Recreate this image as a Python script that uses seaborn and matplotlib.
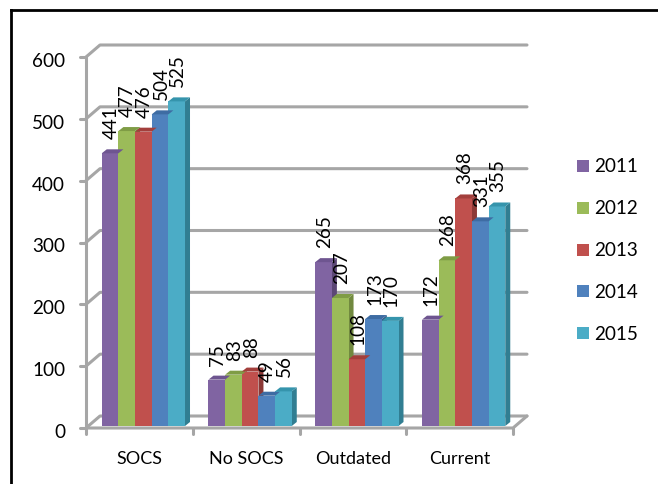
import numpy as np
import pandas as pd
import matplotlib
matplotlib.use('Agg')
import matplotlib.pyplot as plt
from matplotlib.patches import Polygon, Rectangle
from matplotlib.transforms import ScaledTranslation
import seaborn as sns

categories = ['SOCS', 'No SOCS', 'Outdated', 'Current']
years = ['2011', '2012', '2013', '2014', '2015']
values_2011 = [441, 75, 265, 172]
values_2012 = [477, 83, 207, 268]
values_2013 = [476, 88, 108, 368]
values_2014 = [504, 49, 173, 331]
values_2015 = [525, 56, 170, 355]
y_ticks = [0, 100, 200, 300, 400, 500, 600]

colors = ['#8064A2', '#9BBB59', '#C0504D', '#4F81BD', '#4BACC6']
side_colors = ['#5C4776', '#71893F', '#8C3836', '#385E8B', '#317E92']
top_colors = ['#6E5590', '#7F9C45', '#A33F3C', '#3E6CA3', '#3594AC']
GRID = '#A6A6A6'

W, H = 658, 485
AX_L, AX_R, AX_T, AX_B = 86, 513, 58, 429

sns.set_theme(style='white')
plt.rcParams['font.family'] = ['Lato', 'DejaVu Sans']

df = pd.DataFrame({
    'category': categories * 5,
    'year': np.repeat(years, 4),
    'value': values_2011 + values_2012 + values_2013 + values_2014 + values_2015,
})

fig = plt.figure(figsize=(W / 100, H / 100), dpi=100)
ax = fig.add_axes([AX_L / W, 1 - AX_B / H, (AX_R - AX_L) / W, (AX_B - AX_T) / H])
sns.barplot(data=df, x='category', y='value', hue='year', order=categories, hue_order=years,
            palette=colors, width=0.78, saturation=1, legend=False, ax=ax, zorder=3)
ax.set_xlim(-0.5, 3.5)
ax.set_ylim(0, 600)
ax.set_xlabel('')
ax.set_ylabel('')
sns.despine(ax=ax, left=True, bottom=True)
ax.patch.set_alpha(0)

# pixel sizes to data units
px_x = 4 / (AX_R - AX_L)
px_y = 600 / (AX_B - AX_T)
WALL_X, WALL_Y = 14 * px_x, 12 * px_y
BAR_X, BAR_Y = 4 * px_x, 2 * px_y
DEPTH_X, DEPTH_Y = 5 * px_x, 4 * px_y

# 3d frame
x0, x1 = -0.5, 3.5
frame = dict(color=GRID, lw=2.2, clip_on=False, solid_capstyle='round', zorder=1)
for v in y_ticks:
    ax.plot([x0, x0 + WALL_X, x1 + WALL_X], [v, v + WALL_Y, v + WALL_Y], **frame)
    ax.plot([x0 - 6 * px_x, x0], [v, v], **frame)
ax.plot([x0, x0], [0, 600], **frame)
ax.plot([x0, x1, x1 + WALL_X], [0, 0, WALL_Y], **frame)
for i in range(5):
    ax.plot([x0 + i, x0 + i], [0, -6 * px_y], **frame)

# move the bars onto the floor and give them depth
bars = [b for b in ax.patches if b.get_height() > 0]
order = sorted(bars, key=lambda b: b.get_x())
for bar in order:
    i = int(np.argmin([abs(bar.get_facecolor()[0] - matplotlib.colors.to_rgb(c)[0]) +
                       abs(bar.get_facecolor()[1] - matplotlib.colors.to_rgb(c)[1]) for c in colors]))
    x = bar.get_x() + BAR_X
    w = bar.get_width()
    h = bar.get_height()
    bar.set_x(x)
    bar.set_y(BAR_Y)
    bar.set_edgecolor('none')
    y = BAR_Y + h
    ax.add_patch(Polygon([(x + w, BAR_Y), (x + w + DEPTH_X, BAR_Y + DEPTH_Y),
                          (x + w + DEPTH_X, y + DEPTH_Y), (x + w, y)],
                         fc=side_colors[i], ec='none', zorder=2.5, clip_on=False))
    ax.add_patch(Polygon([(x, y), (x + DEPTH_X, y + DEPTH_Y), (x + w + DEPTH_X, y + DEPTH_Y), (x + w, y)],
                         fc=top_colors[i], ec='none', zorder=3, clip_on=False))
    ax.text(x + w / 2 + 1 * px_x, y + 15 * px_y, f'{h:.0f}', rotation=90, ha='center', va='bottom',
            fontsize=13.6, color='black', zorder=6, clip_on=False)

ax.set_xticks(range(4))
ax.set_xticklabels(categories, fontsize=13, color='black')
ax.set_yticks(y_ticks)
ax.set_yticklabels([str(v) for v in y_ticks], fontsize=13.6, color='black')
ax.tick_params(axis='x', length=0, pad=16)
ax.tick_params(axis='y', length=0, pad=15)
nudge = ScaledTranslation(0, -2 / 100, fig.dpi_scale_trans)
for label in ax.get_yticklabels():
    label.set_transform(label.get_transform() + nudge)

# legend
for i, (year, c) in enumerate(zip(years, colors)):
    y_px = 167 + i * 41.8
    fig.add_artist(Rectangle((577 / W, 1 - (y_px + 6) / H), 12 / W, 12 / H, transform=fig.transFigure,
                             fc=c, ec='none'))
    fig.text(594 / W, 1 - y_px / H, year, fontsize=13.6, color='black', va='center', ha='left')

# border: only the left and top edges are in the crop
for xs, ys in [((11, 11), (10.5, H + 5)), ((11, W + 5), (10.5, 10.5))]:
    fig.add_artist(plt.Line2D([v / W for v in xs], [1 - v / H for v in ys], color='black', lw=2,
                              solid_capstyle='projecting'))

fig.savefig('out.png', dpi=100)
